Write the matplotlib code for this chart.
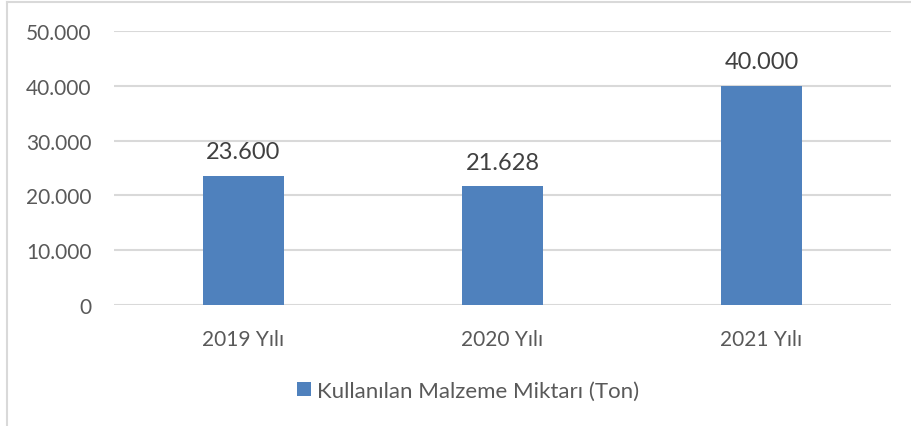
import numpy as np
import matplotlib.pyplot as plt
from matplotlib.lines import Line2D

years = ["2019 Yılı", "2020 Yılı", "2021 Yılı"]
amounts = [23600, 21628, 40000]
series_name = "Kullanılan Malzeme Miktarı (Ton)"
yticks = [0, 10000, 20000, 30000, 40000, 50000]

bar_color = "#4F81BD"
grid_color = "#D9D9D9"
text_gray = "#595959"

plt.rcParams['font.family'] = ['Lato', 'DejaVu Sans']


def fmt(v):
    # turkish thousands separator
    return f"{v:,.0f}".replace(",", ".")


fig = plt.figure(figsize=(9.12, 4.27), dpi=100)
ax = fig.add_axes([114 / 912, 1 - 306 / 427, (891 - 114) / 912, (306 - 32) / 427])

x = np.arange(len(years))
bars = ax.bar(x, amounts, width=0.31, color=bar_color, label=series_name, zorder=3)

ax.set_xlim(-0.5, len(years) - 0.5)
ax.set_ylim(0, 50000)
ax.set_yticks(yticks)
ax.set_yticklabels([fmt(v) for v in yticks])
ax.set_xticks(x)
ax.set_xticklabels(years)
ax.grid(axis="y", color=grid_color, linewidth=1.5, zorder=0)
ax.set_axisbelow(True)
for s in ax.spines.values():
    s.set_visible(False)
ax.tick_params(axis="both", length=0, labelsize=15, labelcolor=text_gray)
ax.tick_params(axis="y", pad=16)
ax.tick_params(axis="x", pad=17)

for b, v in zip(bars, amounts):
    ax.annotate(fmt(v), (b.get_x() + b.get_width() / 2, v), xytext=(0, 12.5),
                textcoords="offset points", ha="center", va="baseline",
                fontsize=17, color="#404040")

leg = fig.legend(loc="center", bbox_to_anchor=(468 / 912, 1 - 392 / 427), frameon=False,
                 fontsize=16, handlelength=0.63, handleheight=0.63, handletextpad=0.3,
                 labelcolor=text_gray)

# chart border (partly cut off in the source)
fig.add_artist(Line2D([7 / 912, 7 / 912], [0, 1 - 3 / 427], transform=fig.transFigure,
                      color=grid_color, linewidth=1.5))
fig.add_artist(Line2D([7 / 912, 1], [1 - 3 / 427, 1 - 3 / 427], transform=fig.transFigure,
                      color=grid_color, linewidth=1.5))

fig.savefig("out.png", dpi=100)
